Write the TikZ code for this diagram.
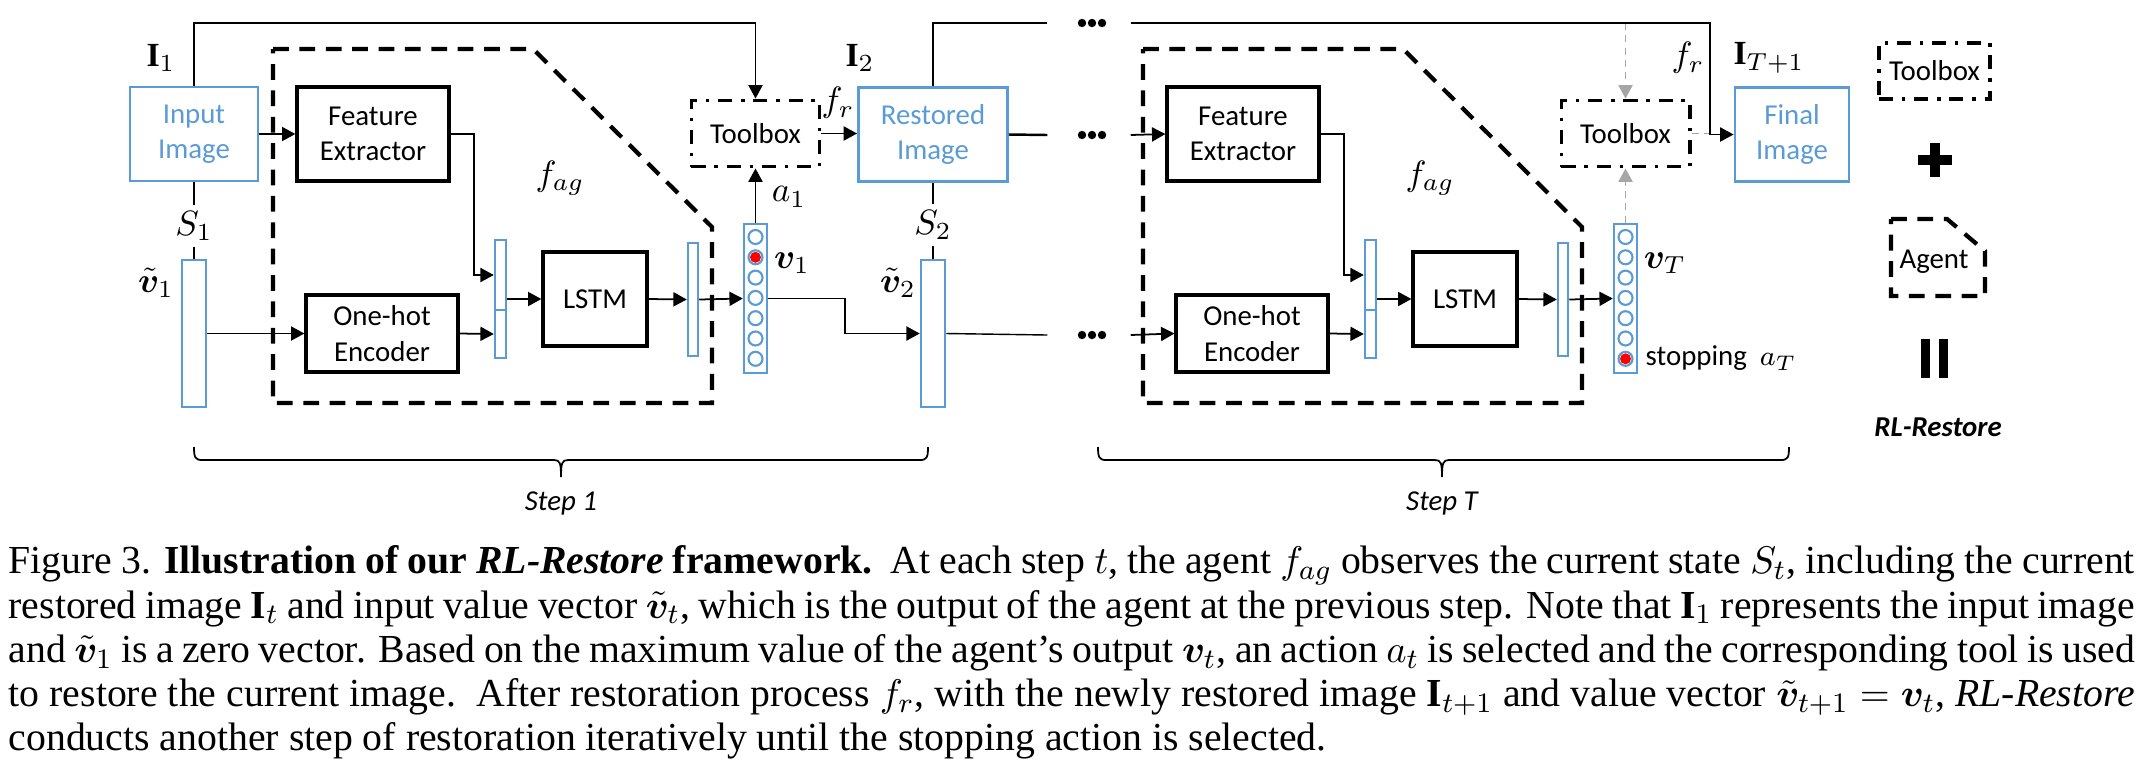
\documentclass[tikz,border=0pt]{standalone}
\usepackage{amsmath}
\usepackage{amssymb}
\usepackage{bm}
\usepackage{fontspec}
\setmainfont{Liberation Serif}
\newfontfamily\calibri{Carlito}
\usepackage{tikz}
\usetikzlibrary{arrows.meta,decorations.pathreplacing,positioning,calc}

\definecolor{imgblue}{HTML}{5B9BD5}
\definecolor{arrgray}{HTML}{A6A6A6}

\begin{document}
\begin{tikzpicture}[x=0.01cm, y=-0.01cm,
    every node/.style={inner sep=0pt},
    diag/.style={font=\calibri\fontsize{8.2}{10}\selectfont},
    imgbox/.style={diag, draw=imgblue, text=imgblue, line width=0.8pt, minimum height=0.94cm, align=center},
    blkbox/.style={diag, draw, line width=0.9pt, align=center},
    toolbox/.style={diag, draw, line width=1.1pt, dash pattern=on 4pt off 2.5pt on 1pt off 2.5pt, minimum width=1.28cm, minimum height=0.66cm},
    vecbar/.style={draw=imgblue, line width=0.7pt, fill=white},
    agentline/.style={line width=1.2pt, dash pattern=on 4.5pt off 3pt},
    conn/.style={line width=0.5pt, -{Triangle[length=3.8pt,width=4pt]}},
    grayconn/.style={draw=arrgray, line width=0.5pt, dash pattern=on 2pt off 1.5pt, -{Triangle[length=3.8pt,width=4pt,fill=arrgray]}},
    lab/.style={font=\fontsize{9.6}{10}\selectfont, inner sep=1.5pt},
    dotsbox/.style={minimum width=0.82cm, minimum height=0.1cm},
]
\useasboundingbox (0,0) rectangle (2140,778);

% the two agent steps
\foreach \st/\dx in {1/0, T/870}{
  \draw[agentline] (\dx+273,49) -- (\dx+533,49) -- (\dx+712,227) -- (\dx+712,403) -- (\dx+273,403) -- cycle;
  \node[blkbox, minimum width=1.52cm, minimum height=0.94cm] (fe\st) at (\dx+373,134) {Feature\\Extractor};
  \node[blkbox, minimum width=1.52cm, minimum height=0.77cm] (oh\st) at (\dx+382,333.5) {One-hot\\Encoder};
  \node[blkbox, minimum width=1.04cm, minimum height=0.94cm] (lstm\st) at (\dx+595,299) {LSTM};
  \node[vecbar, minimum width=0.11cm, minimum height=0.70cm] (bara\st) at (\dx+500.5,275) {};
  \node[vecbar, minimum width=0.11cm, minimum height=0.48cm] (barb\st) at (\dx+500.5,334) {};
  \node[vecbar, minimum width=0.10cm, minimum height=1.13cm] (out\st) at (\dx+693,299.5) {};
  \node[vecbar, minimum width=0.23cm, minimum height=1.49cm] (vec\st) at (\dx+755.5,298.5) {};
  \foreach \k in {0,...,6}
    \draw[imgblue, line width=0.6pt] (\dx+755.5,237+20.3*\k) circle[radius=0.07cm];
  \node[lab] (fag\st) at (\dx+560,178) {$f_{ag}$};
  \node[toolbox] (tb\st) at (\dx+755.5,133.5) {Toolbox};
  \draw[conn] (fe\st.east) -- ++(23,0) |- (bara\st.west);
  \draw[conn] (oh\st.east) -- (barb\st.west);
  \draw[conn] (bara\st.east |- lstm\st.west) -- (lstm\st.west);
  \draw[conn] (lstm\st.east) -- (out\st.west);
  \draw[conn] (out\st.east) -- (vec\st.west);
}
\fill[red] (755.5,257.3) circle[radius=0.055cm];
\fill[red] (1625.5,358.8) circle[radius=0.055cm];

% images and input vectors
\node[imgbox, minimum width=1.28cm] (inimg) at (194,134) {Input\\Image};
\node[imgbox, minimum width=1.49cm] (rest) at (933,134.5) {Restored\\Image};
\node[imgbox, minimum width=1.14cm] (fin) at (1792,134.5) {Final\\Image};
\node[vecbar, minimum width=0.24cm, minimum height=1.47cm] (vt1) at (194,333.5) {};
\node[vecbar, minimum width=0.24cm, minimum height=1.47cm] (vt2) at (933,333.5) {};

% labels
\node[lab] (i1) at (161,58) {$\mathbf{I}_1$};
\node[lab] (i2) at (860,58) {$\mathbf{I}_2$};
\node[lab] (iT1) at (1769,58) {$\mathbf{I}_{T+1}$};
\node[lab] (s1) at (194,226) {$S_1$};
\node[lab] (s2) at (933,225) {$S_2$};
\node[lab] (vt1l) at (156,283) {$\tilde{\bm v}_1$};
\node[lab] (vt2l) at (898,283) {$\tilde{\bm v}_2$};
\node[lab] (fr1) at (838,103) {$f_r$};
\node[lab] (frT) at (1688,58) {$f_r$};
\node[lab] (a1) at (789,197) {$a_1$};
\node[lab] (v1l) at (792,263) {$\bm v_1$};
\node[lab] (vTl) at (1665,263) {$\bm v_T$};
\node[diag, anchor=west] (stopl) at (1645,358) {stopping\ \ $a_T$};

% dots
\node[dotsbox] (dotsA) at (1089,23) {};
\node[dotsbox] (dotsB) at (1089,135) {};
\node[dotsbox] (dotsC) at (1089,335) {};
\foreach \d in {dotsA,dotsB,dotsC}
  \foreach \ox in {-7,3,13}
    \fill ($(\d.center)+(\ox,0)$) circle[radius=0.042cm];
\coordinate (top1) at (755.5,23);
\coordinate (jT) at (1710,134.5);

% connectors
\draw[conn] (inimg.north) |- (top1) -- (tb1.north);
\draw[conn] (inimg.east) -- (fe1.west);
\draw (inimg.south) -- (s1.north);
\draw (s1.south) -- (vt1.north);
\draw[conn] (vt1.east) -- (oh1.west);
\draw[conn] (vec1.north) -- (tb1.south);
\draw[conn] (tb1.east) -- (tb1.east -| rest.west);
\draw[conn] (vec1.east) -- ++(77,0) |- (vt2.west);
\draw (rest.north) |- (dotsA.west);
\draw (rest.south) -- (s2.north);
\draw (s2.south) -- (vt2.north);
\draw[line width=0.7pt] (rest.east) -- (dotsB.west);
\draw[conn] (dotsB.east) -- (feT.west);
\draw (vt2.east) -- (dotsC.west);
\draw[conn] (dotsC.east) -- (ohT.west);
\draw[grayconn] (dotsA.east -| tbT.north) -- (tbT.north);
\draw[grayconn] (vecT.north) -- (tbT.south);
\draw[draw=arrgray, line width=0.5pt, dash pattern=on 2pt off 1.5pt] (tbT.east) -- (tbT.east -| jT);
\draw[conn] (dotsA.east) -| (jT) -- (fin.west);

% braces
\foreach \xa/\xm/\xb in {194/561/928, 1098/1442/1789}
  \draw[line width=0.5pt] (\xa,447) .. controls (\xa,457) and (\xa+1,460) .. (\xa+8,460) -- (\xm-7,460)
    .. controls (\xm-1,460) and (\xm,463) .. (\xm,477) .. controls (\xm,463) and (\xm+1,460) .. (\xm+7,460)
    -- (\xb-8,460) .. controls (\xb-1,460) and (\xb,457) .. (\xb,447);
\node[font=\calibri\itshape\fontsize{8.2}{10}\selectfont] (step1) at (561,503) {Step 1};
\node[font=\calibri\itshape\fontsize{8.2}{10}\selectfont] (stepT) at (1442,503) {Step T};

% legend
\node[toolbox, minimum width=1.11cm, minimum height=0.56cm] (legtb) at (1934.5,71) {Toolbox};
\draw[line width=2.8pt] (1918,160) -- (1952,160) (1935,143) -- (1935,177);
\draw[agentline] (1891,219) -- (1947,219) -- (1985,251) -- (1985,296) -- (1891,296) -- cycle;
\node[diag] (legag) at (1934,262) {Agent};
\fill (1921,339) rectangle (1930,378);
\fill (1939,339) rectangle (1948,378);
\node[font=\calibri\bfseries\itshape\fontsize{8.2}{10}\selectfont] (rlr) at (1938,427) {RL-Restore};

% caption
\node[anchor=north west, text width=21.25cm, align=justify, font=\fontsize{11.3}{12.6}\selectfont] (capt) at (8,545)
{\hyphenpenalty=10000 \exhyphenpenalty=10000
Figure 3. \textbf{Illustration of our \textit{RL-Restore} framework.}\ \ At each step $t$, the agent $f_{ag}$ observes the current state $S_t$, including the current\linebreak
restored image $\mathbf{I}_t$ and input value vector $\tilde{\bm v}_t$, which is the output of the agent at the previous step. Note that $\mathbf{I}_1$ represents the input image\linebreak
and $\tilde{\bm v}_1$ is a zero vector. Based on the maximum value of the agent's output $\bm v_t$, an action $a_t$ is selected and the corresponding tool is used\linebreak
to restore the current image.\ \ After restoration process $f_r$, with the newly restored image $\mathbf{I}_{t+1}$ and value vector $\tilde{\bm v}_{t+1} = \bm v_t$, \textit{RL-Restore}\linebreak
conducts another step of restoration iteratively until the stopping action is selected.};
\end{tikzpicture}
\end{document}
